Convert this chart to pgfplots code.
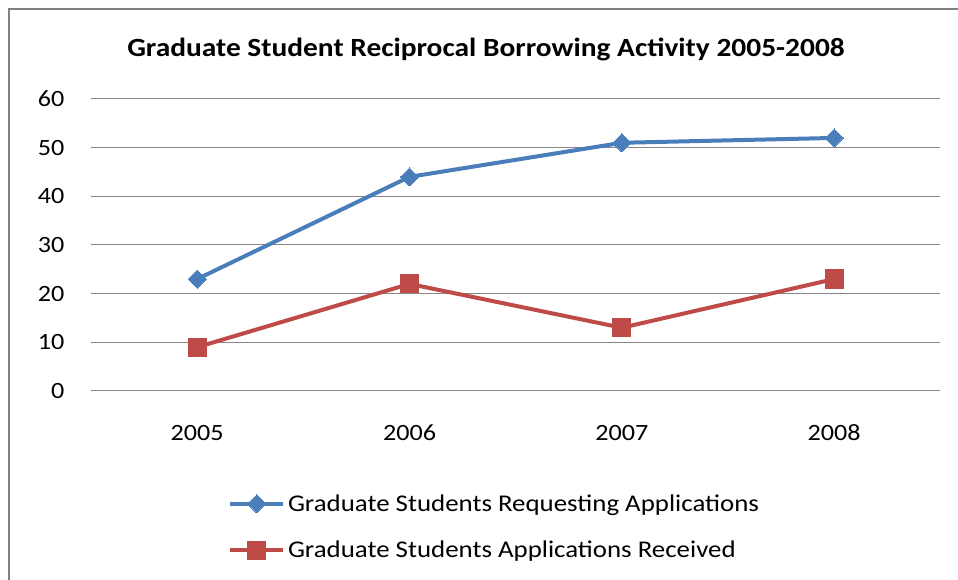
\documentclass[border=0pt]{standalone}
\usepackage{pgfplots}
\pgfplotsset{compat=1.18}
\usepackage{fontspec}
\setmainfont[FakeStretch=1.12]{Carlito}
\definecolor{xlblue}{RGB}{74,126,187}
\definecolor{xlred}{RGB}{190,75,72}
\definecolor{gridgray}{RGB}{134,134,134}
\definecolor{framegray}{RGB}{128,128,128}

\begin{document}
\begin{tikzpicture}
% canvas 958 x 580 px, 1px = 0.75pt
\useasboundingbox (0,0) rectangle (718.5pt,435pt);
\draw[framegray, line width=1.5pt] (6.75pt,0pt) -- (6.75pt,428.25pt) -- (718.5pt,428.25pt);
\node[font=\fontsize{19.7}{23}\selectfont\bfseries] at (364.5pt,397.5pt)
  {Graduate Student Reciprocal Borrowing Activity 2005-2008};

\begin{axis}[
  at={(68.25pt,141.75pt)}, anchor=south west,
  scale only axis,
  width=637pt, height=219pt,
  xmin=-0.5, xmax=3.5,
  ymin=0, ymax=60,
  ytick={0,10,...,60},
  xtick={0,1,2,3},
  xticklabels={2005,2006,2007,2008},
  axis line style={draw=none},
  ymajorgrids,
  grid style={gridgray, line width=0.75pt},
  major tick length=0pt,
  tick style={draw=none},
  /pgf/number format/assume math mode=true,
  tick label style={font=\fontsize{17.5}{21}\selectfont},
  yticklabel style={anchor=east, xshift=-16.5pt},
  xticklabel style={anchor=north, yshift=-22pt},
  clip=false,
  legend style={
    at={(0.161,-0.344)}, anchor=north west,
    draw=none, fill=none,
    font=\fontsize{18}{21}\selectfont,
    row sep=17pt,
    inner sep=0pt,
  },
  legend cell align=left,
  legend image code/.code={
    \draw[#1] (0pt,0pt) -- (40pt,0pt);
    \draw[#1, mark repeat=2, mark phase=2] plot coordinates {(0pt,0pt) (20pt,0pt) (40pt,0pt)};
  },
]
\addplot[xlblue, line width=3pt, mark=square*, mark size=4.8pt,
  mark options={rotate=45, solid, line width=0pt}]
  coordinates {(0,23) (1,44) (2,51) (3,52)};
\addlegendentry{Graduate Students Requesting Applications}
\addplot[xlred, line width=3pt, mark=square*, mark size=6.8pt,
  mark options={solid, line width=0pt}]
  coordinates {(0,9) (1,22) (2,13) (3,23)};
\addlegendentry{Graduate Students Applications Received}
\end{axis}
\end{tikzpicture}
\end{document}
